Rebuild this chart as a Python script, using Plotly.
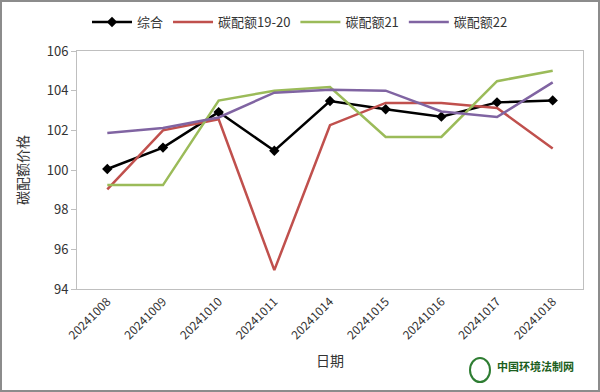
import plotly.graph_objects as go

dates = ["20241008", "20241009", "20241010", "20241011", "20241014",
         "20241015", "20241016", "20241017", "20241018"]
zonghe = [100.05, 101.13, 102.92, 100.97, 103.48, 103.06, 102.69, 103.41, 103.51]
cea1920 = [99.02, 102.0, 102.56, 94.95, 102.26, 103.38, 103.38, 103.13, 101.08]
cea21 = [99.24, 99.24, 103.5, 104.0, 104.18, 101.67, 101.67, 104.48, 105.0]
cea22 = [101.87, 102.12, 102.65, 103.9, 104.05, 104.0, 102.95, 102.67, 104.42]

names = ["综合", "碳配额19-20", "碳配额21", "碳配额22"]
colors = ["#000000", "#C0504D", "#9BBB59", "#8064A2"]

font_cjk = "Noto Sans CJK SC"

fig = go.Figure()
for i, (nm, vals, col) in enumerate(zip(names, [zonghe, cea1920, cea21, cea22], colors)):
    fig.add_trace(go.Scatter(
        x=dates, y=vals, name=nm, mode="lines+markers" if i == 0 else "lines",
        line=dict(color=col, width=2.5),
        marker=dict(symbol="diamond", size=8, color=col) if i == 0 else None,
    ))

L, R, T, B = 77, 17, 51, 103
W, H = 600, 392
pw, ph = W - L - R, H - T - B

fig.update_layout(
    width=W, height=H,
    margin=dict(l=L, r=R, t=T, b=B, autoexpand=False),
    paper_bgcolor="white", plot_bgcolor="white",
    font=dict(family=font_cjk, size=13, color="#333333"),
    showlegend=True,
    legend=dict(orientation="h", x=(300 - L) / pw, xanchor="center", y=1 + 29 / ph, yanchor="middle",
                font=dict(family=font_cjk, size=13, color="#333333"),
                itemwidth=40, tracegroupgap=0),
    xaxis=dict(
        type="category", showgrid=False, showline=True, linecolor="#BFBFBF", linewidth=1,
        mirror=True, tickangle=-45, tickfont=dict(size=12, color="#333333"),
        ticks="", automargin=False,
        title=dict(text="日期", font=dict(size=14, color="#333333"), standoff=14),
    ),
    yaxis=dict(
        range=[94, 106], dtick=2, showgrid=False, showline=True, linecolor="#BFBFBF",
        linewidth=1, mirror=True, ticks="outside", ticklen=5, tickcolor="#BFBFBF",
        tickfont=dict(size=13, color="#333333"), automargin=False,
        title=dict(text="碳配额价格", font=dict(size=14, color="#333333"), standoff=14),
    ),
    shapes=[dict(type="rect", xref="paper", yref="paper",
                 x0=-(L - 1) / pw, x1=1 + (R - 1) / pw,
                 y0=-(B - 1) / ph, y1=1 + (T - 1) / ph,
                 line=dict(color="#8C8C8C", width=2), fillcolor="rgba(0,0,0,0)"),
            dict(type="circle", xref="paper", yref="paper",
                 x0=(470 - L) / pw, x1=(490 - L) / pw,
                 y0=(H - B - 382) / ph, y1=(H - B - 358) / ph,
                 line=dict(color="#2E7D32", width=2), fillcolor="rgba(0,0,0,0)")],
    annotations=[dict(text="<b>中国环境法制网</b>", xref="paper", yref="paper",
                      x=(495 - L) / pw, y=(H - B - 366) / ph, xanchor="left", yanchor="middle",
                      showarrow=False, font=dict(family=font_cjk, size=11, color="#1B5E20"))],
)

fig.write_html("out.html", post_script="document.body.style.margin='0';",
               config={"displayModeBar": False})
